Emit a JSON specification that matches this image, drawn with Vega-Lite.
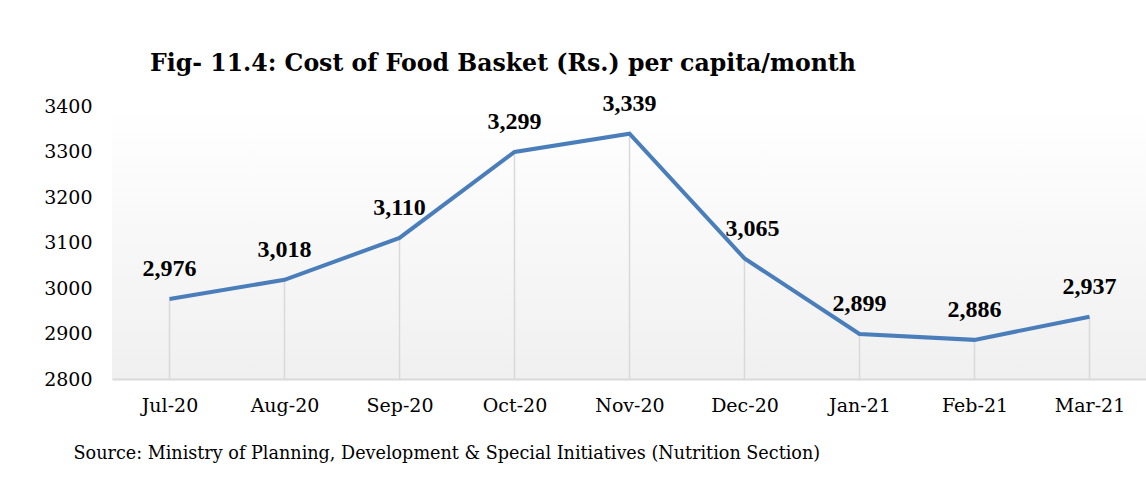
{
  "$schema": "https://vega.github.io/schema/vega-lite/v6.json",
  "width": 1035,
  "height": 273,
  "autosize": {"type": "none"},
  "padding": {"left": 112, "top": 106, "right": 0, "bottom": 106},
  "background": "white",
  "config": {
    "font": "DejaVu Serif",
    "view": {
      "stroke": null,
      "fill": {"gradient": "linear", "x1": 0, "y1": 0, "x2": 0, "y2": 1,
        "stops": [{"offset": 0, "color": "#ffffff"}, {"offset": 1, "color": "#f0f0f0"}]}
    }
  },
  "title": {
    "text": "Fig- 11.4: Cost of Food Basket (Rs.) per capita/month",
    "anchor": "start",
    "frame": "group",
    "dx": 38,
    "offset": -3,
    "baseline": "alphabetic",
    "font": "DejaVu Serif",
    "fontSize": 23.6,
    "fontWeight": "bold",
    "color": "#000000"
  },
  "data": {
    "values": [
      {"month": "Jul-20", "cost": 2976},
      {"month": "Aug-20", "cost": 3018},
      {"month": "Sep-20", "cost": 3110},
      {"month": "Oct-20", "cost": 3299},
      {"month": "Nov-20", "cost": 3339},
      {"month": "Dec-20", "cost": 3065},
      {"month": "Jan-21", "cost": 2899},
      {"month": "Feb-21", "cost": 2886},
      {"month": "Mar-21", "cost": 2937}
    ]
  },
  "encoding": {
    "x": {
      "field": "month", "type": "ordinal", "sort": null,
      "scale": {"type": "point", "padding": 0.5},
      "axis": {
        "title": "Source: Ministry of Planning, Development & Special Initiatives (Nutrition Section)",
        "titleFont": "DejaVu Serif", "titleFontSize": 17.6, "titleFontWeight": "normal",
        "titleColor": "#000000", "titleAnchor": "start", "titleAlign": "left",
        "titleX": -39, "titleY": 79, "titleBaseline": "alphabetic",
        "labelAngle": 0, "labelFont": "DejaVu Serif", "labelFontSize": 19, "labelColor": "#000000", "labelPadding": 17,
        "ticks": false, "domainColor": "#d9d9d9", "domainWidth": 2, "grid": false
      }
    },
    "y": {
      "field": "cost", "type": "quantitative",
      "scale": {"domain": [2800, 3400], "nice": false, "zero": false},
      "axis": {
        "title": null, "values": [2800, 2900, 3000, 3100, 3200, 3300, 3400],
        "format": "d", "labelFont": "DejaVu Serif", "labelFontSize": 19, "labelColor": "#000000", "labelPadding": 20,
        "ticks": false, "domain": false, "grid": false
      }
    }
  },
  "layer": [
    {
      "mark": {"type": "rule", "color": "#d9d9d9", "strokeWidth": 1.5},
      "encoding": {"y2": {"datum": 2800}}
    },
    {
      "mark": {"type": "line", "color": "#4a7ebb", "strokeWidth": 4, "strokeJoin": "miter"},
      "encoding": {}
    },
    {
      "transform": [{"filter": "datum.month !== 'Dec-20'"}],
      "mark": {"type": "text", "dy": -30, "baseline": "middle", "font": "Liberation Serif", "fontSize": 24, "fontWeight": "bold", "color": "#000000"},
      "encoding": {"text": {"field": "cost", "type": "quantitative", "format": ",d"}}
    },
    {
      "transform": [{"filter": "datum.month === 'Dec-20'"}],
      "mark": {"type": "text", "dy": -29, "dx": 8, "baseline": "middle", "font": "Liberation Serif", "fontSize": 24, "fontWeight": "bold", "color": "#000000"},
      "encoding": {"text": {"field": "cost", "type": "quantitative", "format": ",d"}}
    }
  ]
}
